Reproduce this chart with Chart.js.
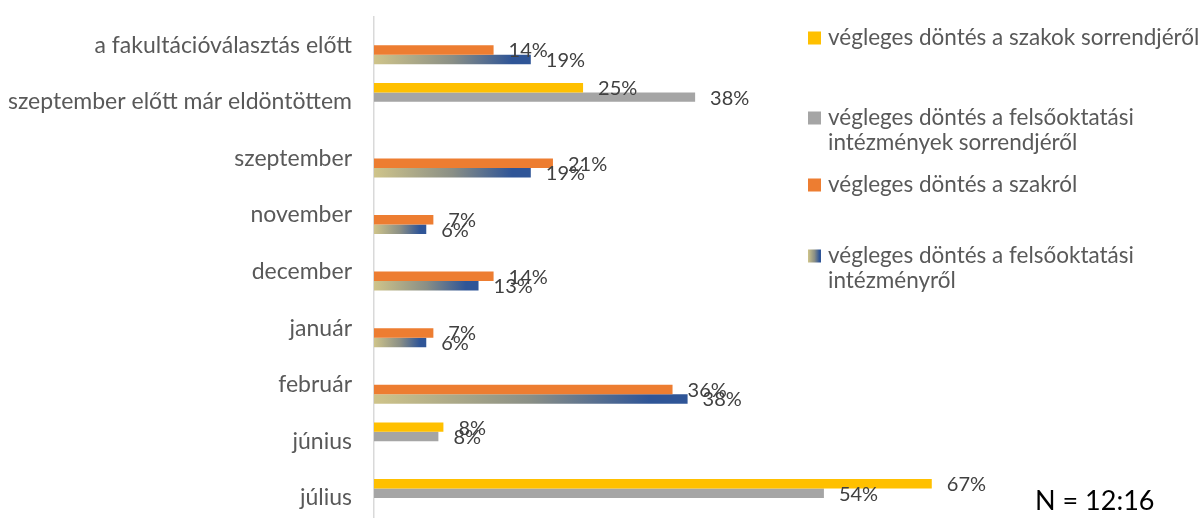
<!DOCTYPE html>
<html lang="hu">
<head>
<meta charset="UTF-8">
<title>Végleges döntés időpontja</title>
<script src="https://cdn.jsdelivr.net/npm/chart.js"></script>
<style>
  html, body { margin: 0; padding: 0; background: #fff; }
  #wrap { width: 1200px; height: 518px; overflow: hidden; }
</style>
</head>
<body>
<div id="wrap"><canvas id="chart" width="1200" height="540"></canvas></div>
<script>
// categories, top to bottom
const categories = ['a fakultációválasztás előtt', 'szeptember előtt már eldöntöttem', 'szeptember',
  'november', 'december', 'január', 'február', 'június', 'július'];

// share of respondents (%)
const szakokSorrendje = [null, 25, null, null, null, null, null, 8.3, 66.7];
const intezmenyekSorrendje = [null, 38.4, null, null, null, null, null, 7.7, 53.8];
const szakrol = [14.3, null, 21.4, 7.1, 14.3, 7.1, 35.7, null, null];
const intezmenyrol = [18.75, null, 18.75, 6.25, 12.5, 6.25, 37.5, null, null];

const seriesNames = [
  ['végleges döntés a szakok sorrendjéről'],
  ['végleges döntés a felsőoktatási', 'intézmények sorrendjéről'],
  ['végleges döntés a szakról'],
  ['végleges döntés a felsőoktatási', 'intézményről']
];
const sampleNote = 'N = 12:16';

const FONT = 'Lato, "Open Sans", sans-serif';

function makeGradient(c, x0, x1) {
  const g = c.createLinearGradient(x0, 0, x1, 0);
  g.addColorStop(0, '#cfc48a');
  g.addColorStop(0.5, '#8a8f86');
  g.addColorStop(0.88, '#2f5597');
  g.addColorStop(1, '#2f5597');
  return g;
}

// each bar gets its own khaki -> blue gradient
function gradientFill(context) {
  const chart = context.chart;
  if (!chart.chartArea || context.raw == null) return '#2f5597';
  const xs = chart.scales.x;
  return makeGradient(chart.ctx, xs.getPixelForValue(0), xs.getPixelForValue(context.raw));
}

const valueLabels = {
  id: 'valueLabels',
  afterDatasetsDraw(chart) {
    const ctx = chart.ctx;
    ctx.save();
    ctx.font = '20px ' + FONT;
    ctx.fillStyle = '#404040';
    ctx.textAlign = 'left';
    ctx.textBaseline = 'middle';
    chart.data.datasets.forEach((ds, i) => {
      chart.getDatasetMeta(i).data.forEach((bar, j) => {
        const v = ds.data[j];
        if (v == null) return;
        ctx.fillText(Math.round(v) + '%', bar.x + 15, bar.y + 1);
      });
    });
    ctx.restore();
  }
};

const sideLegend = {
  id: 'sideLegend',
  afterDraw(chart) {
    const ctx = chart.ctx;
    const tops = [38, 118, 185, 256];
    const lineH = 25;
    ctx.save();
    ctx.font = '22.5px ' + FONT;
    ctx.textBaseline = 'middle';
    ctx.textAlign = 'left';
    chart.data.datasets.forEach((ds, i) => {
      const y = tops[i];
      ctx.fillStyle = i === 3 ? makeGradient(ctx, 808, 821) : ds.backgroundColor;
      ctx.fillRect(808, y - 6.5, 13, 13);
      ctx.fillStyle = '#595959';
      seriesNames[i].forEach((line, k) => ctx.fillText(line, 828, y + k * lineH));
    });
    ctx.font = '27px ' + FONT;
    ctx.fillStyle = '#000';
    ctx.fillText(sampleNote, 1035, 501);
    ctx.restore();
  }
};

new Chart(document.getElementById('chart'), {
  type: 'bar',
  data: {
    labels: categories,
    datasets: [
      { label: seriesNames[0].join(' '), data: szakokSorrendje, backgroundColor: '#ffc000' },
      { label: seriesNames[1].join(' '), data: intezmenyekSorrendje, backgroundColor: '#a5a5a5' },
      { label: seriesNames[2].join(' '), data: szakrol, backgroundColor: '#ed7d31' },
      { label: seriesNames[3].join(' '), data: intezmenyrol, backgroundColor: gradientFill }
    ]
  },
  options: {
    indexAxis: 'y',
    responsive: false,
    animation: false,
    categoryPercentage: 0.67,
    barPercentage: 1,
    layout: { padding: { left: 0, right: 157, top: 17, bottom: 3 } },
    scales: {
      x: { display: false, min: 0, max: 80 },
      y: {
        afterFit(scale) { scale.width = 374; },
        // invisible tick marks push the labels away from the axis line
        grid: { display: false, drawTicks: true, tickLength: 22, tickColor: 'rgba(0,0,0,0)' },
        border: { display: true, color: '#d9d9d9', width: 1.5 },
        ticks: { color: '#595959', font: { family: FONT, size: 23 }, padding: 0, autoSkip: false }
      }
    },
    plugins: {
      legend: { display: false },
      tooltip: { enabled: false }
    }
  },
  plugins: [valueLabels, sideLegend]
});
</script>
</body>
</html>
